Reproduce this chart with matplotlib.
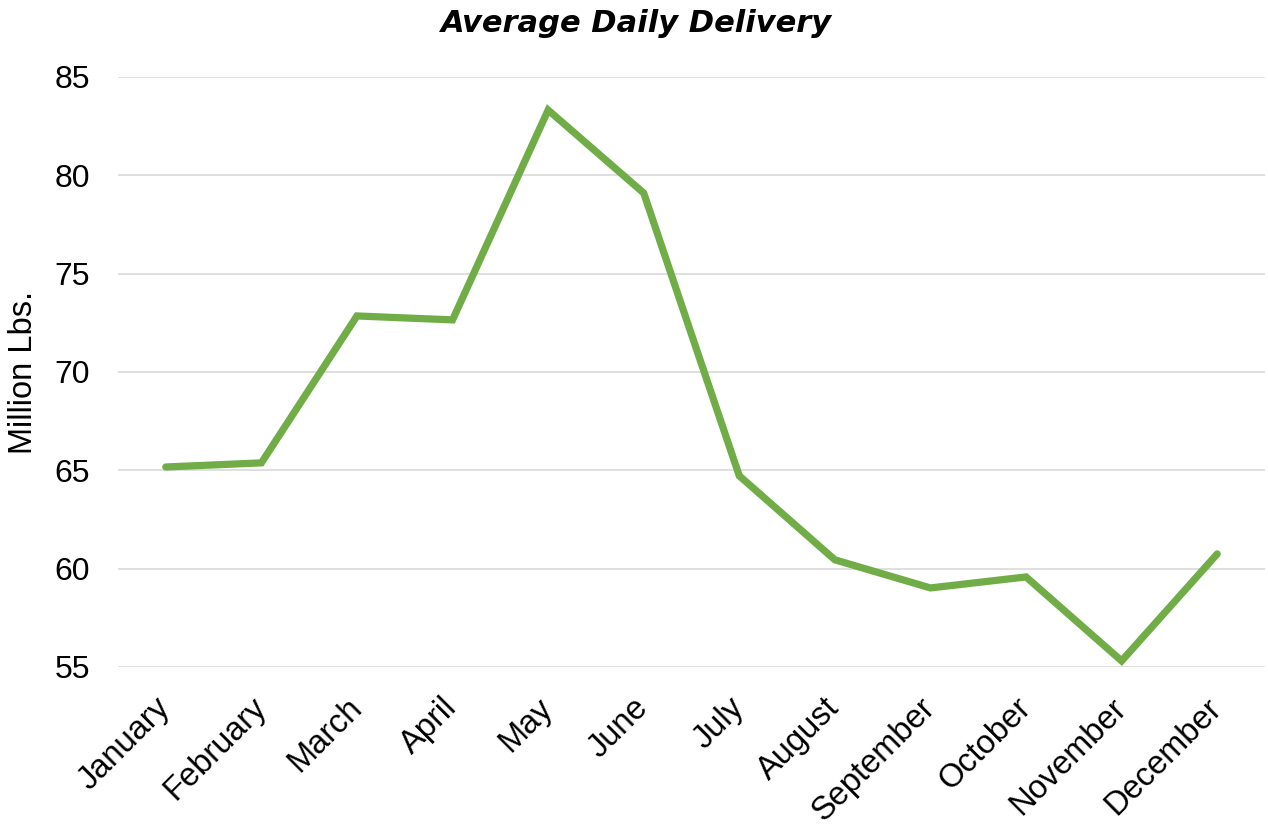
import matplotlib
matplotlib.use("Agg")
import matplotlib.pyplot as plt

months = ["January", "February", "March", "April", "May", "June", "July",
          "August", "September", "October", "November", "December"]
delivery = [65.17, 65.38, 72.85, 72.65, 83.32, 79.1, 64.72, 60.45, 59.02, 59.58, 55.31, 60.75]
yticks = [55, 60, 65, 70, 75, 80, 85]

plt.rcParams['font.family'] = ['Liberation Sans', 'DejaVu Sans']

fig = plt.figure(figsize=(12.68, 8.25), dpi=100)
ax = fig.add_axes([118/1268, 1 - 667/825, (1265-118)/1268, (667-77)/825])

x = list(range(len(months)))
ax.plot(x, delivery, color='#70AD47', linewidth=5.2, solid_capstyle='round', solid_joinstyle='miter', zorder=3)

ax.set_xlim(-0.5, len(months) - 0.5)
ax.set_ylim(55, 85)
ax.set_yticks(yticks)
ax.set_yticklabels([str(v) for v in yticks], fontsize=23)
ax.set_xticks(x)
ax.set_xticklabels(months, rotation=45, ha='right', va='center', rotation_mode='anchor', fontsize=23.5)
ax.tick_params(axis='y', length=0, pad=20, colors='#000000')
ax.tick_params(axis='x', length=0, pad=26, colors='#000000')
ax.grid(axis='y', color='#D9D9D9', linewidth=1.2)
ax.set_axisbelow(True)
for s in ax.spines.values():
    s.set_visible(False)

fig.text(24/1268, 1 - 372/825, "Million Lbs.", rotation=90, ha='center', va='center', fontsize=23.5)
fig.text(0.5 + 3/1268, 1 - 23/825, "Average Daily Delivery", ha='center', va='center',
         fontsize=22, fontweight='bold', fontstyle='italic', family='DejaVu Sans')

fig.savefig("out.png", dpi=100, facecolor='white')
